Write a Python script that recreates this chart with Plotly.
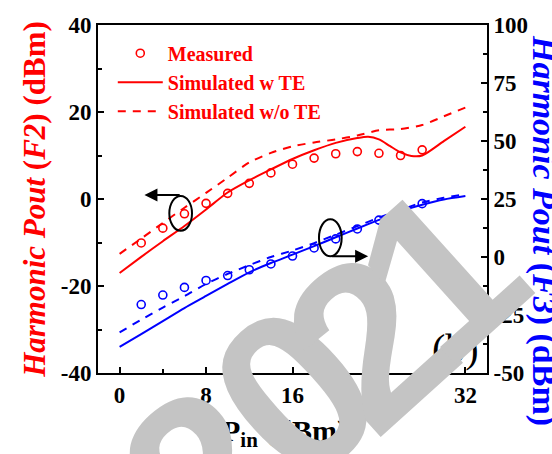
import math
import plotly.graph_objects as go

# Input power sweep (dBm)
pin_meas = [2, 4, 6, 8, 10, 12, 14, 16, 18, 20, 22, 24, 26, 28]
pin_sim = [0, 2, 4, 6, 8, 10, 12, 14, 16, 18, 20, 22, 24, 26, 28, 30, 32]
pin_sim_te = [0, 2, 4, 6, 8, 10, 12, 14, 16, 18, 20, 22, 23, 24, 25, 26, 27, 28, 30, 32]

# Second harmonic output power (dBm)
f2_meas = [-10.1, -6.7, -3.4, -1.0, 1.3, 3.6, 6.0, 8.0, 9.4, 10.4, 10.9, 10.5, 10.0, 11.3]
f2_sim_te = [-17.0, -13.3, -9.7, -6.2, -2.4, 1.5, 4.3, 6.8, 9.2, 11.2, 12.9, 14.0, 14.3,
             13.7, 12.2, 10.7, 9.9, 10.0, 13.3, 16.6]
f2_sim_no_te = [-12.6, -9.1, -5.5, -2.0, 1.4, 4.9, 8.4, 10.6, 12.1, 13.0, 13.7, 14.6, 15.8,
                16.1, 17.0, 19.0, 21.0]

# Third harmonic output power (dBm)
f3_meas = [-20.5, -16.4, -13.1, -10.1, -8.0, -5.5, -3.0, 0.4, 3.9, 7.8, 12.1, 15.9, 19.5, 23.0]
f3_sim_te = [-38.7, -33.2, -27.6, -22.0, -16.8, -11.6, -6.6, -2.6, 1.0, 4.7, 8.5, 12.3,
             16.0, 19.8, 22.5, 24.8, 26.3]
f3_sim_no_te = [-32.5, -27.0, -21.8, -16.9, -11.6, -7.3, -3.5, 0.0, 2.8, 6.0, 9.6, 13.3,
                17.0, 20.3, 23.5, 25.5, 27.0]

# Tick labels
x_ticks = [0, 8, 16, 24, 32]
x_ticktext = ["0", "8", "16", "24", "32"]
y_ticks = [-40, -20, 0, 20, 40]
y_ticktext = ["-40", "-20", "0", "20", "40"]
y2_ticks = [-50, -25, 0, 25, 50, 75, 100]
y2_ticktext = ["-50", "-25", "0", "25", "50", "75", "100"]

RED = "#ff0000"
BLUE = "#0000ff"
SERIF = "Liberation Serif"
DASH = "8px,7px"

W, H = 552, 454
M_L, M_R, M_T, M_B = 98, 65, 25, 81
PLOT_W = W - M_L - M_R
PLOT_H = H - M_T - M_B


def paper_x(px):
    return (px - M_L) / PLOT_W


def paper_y(py):
    return (M_T + PLOT_H - py) / PLOT_H


fig = go.Figure()

# F2 (left axis)
fig.add_trace(go.Scatter(x=pin_meas, y=f2_meas, mode="markers", name="Measured",
                         marker=dict(symbol="circle-open", size=8, color=RED,
                                     line=dict(width=1.6, color=RED))))
fig.add_trace(go.Scatter(x=pin_sim_te, y=f2_sim_te, mode="lines", name="Simulated w TE",
                         line=dict(color=RED, width=2, shape="spline", smoothing=0.7)))
fig.add_trace(go.Scatter(x=pin_sim, y=f2_sim_no_te, mode="lines", name="Simulated w/o TE",
                         line=dict(color=RED, width=2, dash=DASH, shape="spline", smoothing=0.7)))

# F3 (right axis)
fig.add_trace(go.Scatter(x=pin_meas, y=f3_meas, mode="markers", yaxis="y2", showlegend=False,
                         marker=dict(symbol="circle-open", size=8, color=BLUE,
                                     line=dict(width=1.6, color=BLUE))))
fig.add_trace(go.Scatter(x=pin_sim, y=f3_sim_te, mode="lines", yaxis="y2", showlegend=False,
                         line=dict(color=BLUE, width=2, shape="spline", smoothing=0.7)))
fig.add_trace(go.Scatter(x=pin_sim, y=f3_sim_no_te, mode="lines", yaxis="y2", showlegend=False,
                         line=dict(color=BLUE, width=2, dash=DASH, shape="spline", smoothing=0.7)))

tick_font = dict(family=SERIF, size=23, color="black", weight="bold")
axis_common = dict(showgrid=False, zeroline=False, showline=True, linecolor="black",
                   linewidth=2, ticks="inside", ticklen=6, tickwidth=2, tickcolor="black",
                   tickfont=tick_font)

fig.update_layout(
    width=W, height=H,
    margin=dict(l=M_L, r=M_R, t=M_T, b=M_B),
    paper_bgcolor="white", plot_bgcolor="white",
    showlegend=True,
    legend=dict(x=0.038, y=0.975, xanchor="left", yanchor="top",
                bgcolor="rgba(0,0,0,0)", itemwidth=45,
                font=dict(family=SERIF, size=20, color=RED, weight="bold")),
    xaxis=dict(range=[-2, 34], tickvals=x_ticks, ticktext=x_ticktext, mirror=True,
               minor=dict(dtick=4, tick0=0, ticks="inside", ticklen=4, tickwidth=2,
                          tickcolor="black"),
               **axis_common),
    yaxis=dict(range=[-40, 40], tickvals=y_ticks, ticktext=y_ticktext,
               minor=dict(dtick=10, tick0=0, ticks="inside", ticklen=4, tickwidth=2,
                          tickcolor="black"),
               title=dict(text="<i>Harmonic Pout</i> (<i>F2</i>) (dBm)", standoff=6,
                          font=dict(family=SERIF, size=31, color=RED, weight="bold")),
               **axis_common),
    yaxis2=dict(range=[-50, 100], tickvals=y2_ticks, ticktext=y2_ticktext,
                overlaying="y", side="right",
                minor=dict(dtick=12.5, tick0=0, ticks="inside", ticklen=4, tickwidth=2,
                           tickcolor="black"),
                **axis_common),
)

# Ellipses marking which curves belong to which axis
fig.add_shape(type="circle", xref="x", yref="y", x0=4.6, x1=6.7, y0=-7.3, y1=0.7,
              line=dict(color="black", width=2))
fig.add_shape(type="circle", xref="x", yref="y2", x0=18.45, x1=20.55, y0=0.3, y1=16.3,
              line=dict(color="black", width=2))

annotations = [
    # arrows toward the matching axis
    dict(x=2.3, y=0.9, xref="x", yref="y", ax=5.7, ay=0.9, axref="x", ayref="y",
         text="", showarrow=True, arrowhead=2, arrowsize=1.3, arrowwidth=2,
         arrowcolor="black"),
    dict(x=23.0, y=0.3, xref="x", yref="y2", ax=19.5, ay=0.3, axref="x", ayref="y2",
         text="", showarrow=True, arrowhead=2, arrowsize=1.3, arrowwidth=2,
         arrowcolor="black"),
    # x axis title
    dict(text="P<sub>in</sub> (dBm)", xref="paper", yref="paper",
         x=paper_x(284), y=paper_y(433), xanchor="center", yanchor="middle",
         showarrow=False, font=dict(family=SERIF, size=30, color="black", weight="bold")),
    # right axis title
    dict(text="<i>Harmonic Pout</i> (<i>F3</i>) (dBm)", textangle=90,
         xref="paper", yref="paper", x=1.0, y=paper_y(230),
         xanchor="left", yanchor="middle", xshift=36, showarrow=False,
         font=dict(family=SERIF, size=34, color=BLUE, weight="bold")),
    # panel label
    dict(text="(b)", xref="paper", yref="paper", x=0.985, y=0.0, xanchor="right",
         yanchor="bottom", showarrow=False,
         font=dict(family=SERIF, size=40, color="black")),
]

# Year stamp laid diagonally across the lower right, one glyph at a time.
# Rotated single glyphs land offset along the baseline from their anchor,
# so the anchors are pulled back by that amount.
stamp = "2021"
stamp_size = 230
stamp_angle = 42.0            # baseline direction, degrees above horizontal
stamp_pitch = 105.0           # px between glyph centres
stamp_last = (469.0, 238.0)   # px, centre of the final glyph
glyph_offset = (30.0, -26.0)  # px, rendered glyph centre minus anchor
glyph_nudge = [(0, 0), (12, -12), (8, 6), (0, 8)]  # px, per-glyph spacing trim
ux = math.cos(math.radians(stamp_angle))
uy = -math.sin(math.radians(stamp_angle))
n = len(stamp)
for i, ch in enumerate(stamp):
    k = i - (n - 1)
    cx = stamp_last[0] + k * stamp_pitch * ux + glyph_nudge[i][0]
    cy = stamp_last[1] + k * stamp_pitch * uy + glyph_nudge[i][1]
    annotations.append(dict(
        text=ch, textangle=-42, xref="paper", yref="paper",
        x=paper_x(cx - glyph_offset[0]), y=paper_y(cy - glyph_offset[1]),
        xanchor="center", yanchor="middle", showarrow=False,
        font=dict(family="Liberation Sans", size=stamp_size, color="#c4c4c4",
                  weight="bold")))

fig.update_layout(annotations=annotations)

fig.write_html("out.html")
